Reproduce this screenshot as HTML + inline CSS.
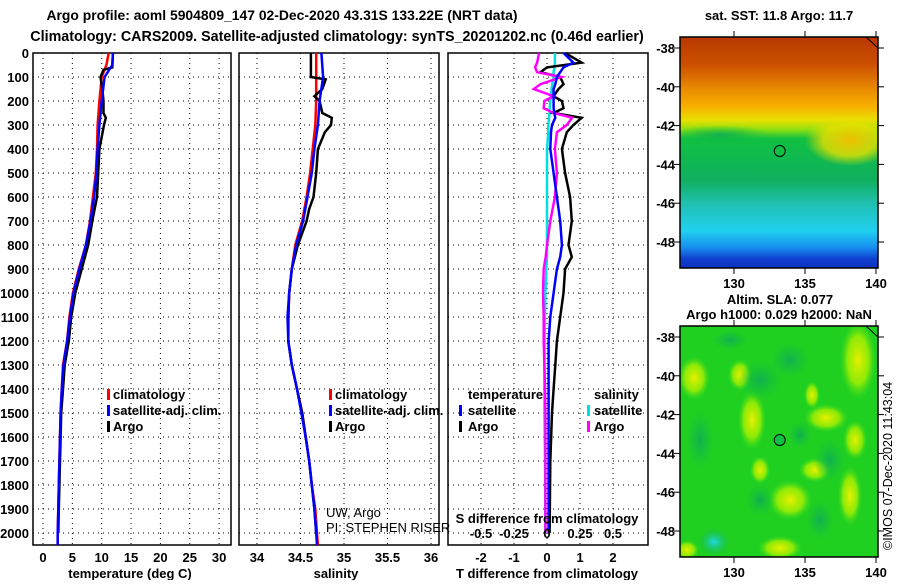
<!DOCTYPE html>
<html><head><meta charset="utf-8"><style>
body{margin:0;background:#fff}
svg text{font-family:"Liberation Sans",sans-serif;font-size:13px;fill:#000}
</style></head><body>
<svg id="c" width="900" height="580" xmlns="http://www.w3.org/2000/svg">
<text x="282" y="20" text-anchor="middle" style="font-size:13.9px;font-weight:bold">Argo profile: aoml 5904809_147 02-Dec-2020 43.31S 133.22E (NRT data)</text>
<text x="337" y="41" text-anchor="middle" style="font-size:14.3px;font-weight:bold">Climatology: CARS2009. Satellite-adjusted climatology: synTS_20201202.nc (0.46d earlier)</text>
<defs>
<linearGradient id="sst" x1="0" y1="0" x2="0" y2="1">
<stop offset="0" stop-color="#b83800"/><stop offset="0.12" stop-color="#cc5000"/><stop offset="0.22" stop-color="#e88800"/><stop offset="0.3" stop-color="#f8b000"/><stop offset="0.36" stop-color="#e8e000"/><stop offset="0.4" stop-color="#90e010"/><stop offset="0.44" stop-color="#10c040"/><stop offset="0.62" stop-color="#10b060"/><stop offset="0.72" stop-color="#20c0b0"/><stop offset="0.84" stop-color="#20d0f0"/><stop offset="0.91" stop-color="#1890f0"/><stop offset="0.96" stop-color="#1040d0"/><stop offset="1" stop-color="#1030c0"/>
</linearGradient>
<radialGradient id="yb"><stop offset="0" stop-color="#e8f000"/><stop offset="0.6" stop-color="#a8f000" stop-opacity="0.8"/><stop offset="1" stop-color="#40e020" stop-opacity="0"/></radialGradient>
<radialGradient id="db"><stop offset="0" stop-color="#10b050"/><stop offset="1" stop-color="#10c040" stop-opacity="0"/></radialGradient>
<radialGradient id="cb"><stop offset="0" stop-color="#20d8e8"/><stop offset="1" stop-color="#10b060" stop-opacity="0"/></radialGradient>
<radialGradient id="ob"><stop offset="0" stop-color="#f0c000"/><stop offset="0.6" stop-color="#e8e000" stop-opacity="0.8"/><stop offset="1" stop-color="#e8e000" stop-opacity="0"/></radialGradient>
</defs>
<g id="maps"></g>
<g id="plots"></g>
</svg>
<script>
// ---- data ----
const tDepth = [0,50,100,200,300,400,500,600,700,800,900,1000,1100,1200,1300,1400,1500,1600,1700,1800,1900,2000,2050];
const tClim  = [11.2,10.8,10.0,9.6,9.3,9.2,9.0,8.5,8.0,7.3,6.1,5.1,4.5,4.1,3.4,3.2,3.0,2.9,2.8,2.7,2.6,2.5,2.5];
const tSat   = [11.9,11.8,10.5,10.0,9.6,9.3,9.1,8.7,8.1,7.3,6.2,5.2,4.6,4.1,3.5,3.2,3.0,2.9,2.8,2.7,2.6,2.5,2.5];
const argoDepth = [0,60,70,100,150,200,250,270,300,350,400,500,600,700,800,900,1000,1100,1200,1300,1400,1500,1600,1700,1800,1900,2000];
const tArgo = [11.9,11.8,10.3,9.8,10.1,10.3,10.3,10.7,10.4,10.0,9.6,9.4,9.2,8.4,7.7,6.6,5.5,4.8,4.4,3.7,3.4,3.1,3.0,2.9,2.8,2.7,2.6];
const sDepth = [0,100,200,300,400,500,600,700,800,900,1000,1100,1200,1300,1400,1500,1600,1700,1800,1900,2000,2050];
const sClim  = [34.68,34.68,34.68,34.67,34.64,34.61,34.57,34.52,34.44,34.40,34.37,34.36,34.36,34.40,34.46,34.52,34.56,34.60,34.63,34.67,34.69,34.70];
const sSat   = [34.74,34.76,34.72,34.70,34.66,34.63,34.58,34.53,34.45,34.40,34.37,34.35,34.36,34.40,34.46,34.51,34.56,34.60,34.63,34.66,34.68,34.69];
const sArgoDepth = [0,100,110,150,180,200,250,270,300,330,400,500,600,650,700,800,900,1000,1100,1200,1300,1400,1500,1600,1700,1800,1900,2000];
const sArgo = [34.62,34.62,34.79,34.75,34.66,34.72,34.75,34.86,34.85,34.78,34.70,34.68,34.65,34.60,34.57,34.47,34.40,34.37,34.36,34.36,34.40,34.46,34.52,34.56,34.60,34.63,34.66,34.68];
const dDepth = [0,40,60,80,100,130,150,180,200,230,250,270,300,330,400,500,600,700,800,850,900,1000,1100,1200,1300,1400,1500,1700,2000];
const dTArgo = [0.55,1.05,0,-0.2,0.4,0.5,0.35,0.2,0.45,0.5,0.2,1.05,0.8,0.6,0.45,0.55,0.7,0.75,0.65,0.75,0.55,0.5,0.4,0.3,0.25,0.2,0.15,0.1,0.08];
const dTSat  = [0.5,0.8,0.5,0.4,0.3,0.25,0.2,0.2,0.2,0.2,0.22,0.25,0.15,0.12,0.1,0.2,0.3,0.4,0.45,0.4,0.3,0.2,0.1,0.05,0.05,0.05,0.05,0.05,0.05];
const dSArgo = [-0.06,-0.075,-0.09,-0.075,0.11,-0.05,-0.1,0.05,-0.02,-0.025,0.05,0.19,0.15,0.075,0.06,0.075,0.06,0.025,0,-0.01,-0.025,-0.03,-0.025,-0.025,-0.02,-0.015,-0.012,-0.012,-0.012];
const dSSat  = [0.06,0.06,0.055,0.05,0.05,0.04,0.035,0.03,0.025,0.02,0.02,0.015,0.01,0.01,0,0,0,0,0,0,-0.005,-0.012,-0.015,-0.018,-0.02,-0.02,-0.02,-0.015,-0.012];
const depthTicks = [0,100,200,300,400,500,600,700,800,900,1000,1100,1200,1300,1400,1500,1600,1700,1800,1900,2000];
const tTicks = [0,5,10,15,20,25,30];
const sTicks = [34,34.5,35,35.5,36];
const sTickLabels = ['34','34.5','35','35.5','36'];
const dTTicks = [-2,-1,0,1,2];
const dSTicks = [-0.5,-0.25,0,0.25,0.5];
const dSTickLabels = ['-0.5','-0.25','0','0.25','0.5'];
const latTicks = [-38,-40,-42,-44,-46,-48];
const lonTicks = [130,135,140];

// ---- axes ----
const top0=53, bot=545;
const yD = d => 53 + d*0.24;
const xT = v => 43 + v*5.87;
const xS = v => 257 + (v-34)*87;
const xDT = v => 547 + v*33;
const xDS = v => 547 + v*132;
const NS='http://www.w3.org/2000/svg';
const G=document.getElementById('plots');
function el(tag,attrs,parent,txt){const e=document.createElementNS(NS,tag);for(const k in attrs)e.setAttribute(k,attrs[k]);if(txt!==undefined)e.textContent=txt;(parent||G).appendChild(e);return e;}
function panel(x0,x1,name){
  const g=el('g',{});
  
  
  depthTicks.forEach(d=>{const l=el('line',{x1:x0,x2:x1,y1:yD(d),y2:yD(d),stroke:'#000','stroke-width':1,'stroke-dasharray':'1,4'},g);
    
    });
  const r=el('rect',{x:x0,y:top0,width:x1-x0,height:bot-top0,fill:'none',stroke:'#000','stroke-width':1.5},g);
  
  
  return g;
}
function vgrid(g,ticks,f){ticks.forEach(v=>{const l=el('line',{x1:f(v),x2:f(v),y1:top0,y2:bot,stroke:'#000','stroke-width':1,'stroke-dasharray':'1,4'},g);
  
  });}
function series(g,depths,vals,f,color,w,name){
  let d='';depths.forEach((dp,i)=>{d+=(i?'L':'M')+f(vals[i]).toFixed(1)+','+yD(dp).toFixed(1);});
  const p=el('path',{d:d,fill:'none',stroke:color,'stroke-width':w},g);
  
  
}
function label(g,x,y,t,name,anchor,size,weight){
  const e=el('text',{x:x,y:y,'text-anchor':anchor||'middle'},g,t);
  e.setAttribute('style','font-size:'+(size||13)+'px;font-weight:'+(weight||'bold'));
  
  
  return e;
}
function legendMark(g,x,y,color,name){
  const r=el('rect',{x:x,y:y-10,width:3,height:11,fill:color},g);
  
  
}
depthTicks.forEach(d=>label(G,29,yD(d)+5,String(d),'depth-tick-label','end'));

// panel 1
const p1=panel(33,231,'temperature-panel');
vgrid(p1,tTicks,xT);
series(p1,tDepth,tClim,xT,'#ff0000',2.5,'temperature-climatology-line');
series(p1,argoDepth,tArgo,xT,'#000000',2.5,'temperature-argo-line');
series(p1,tDepth,tSat,xT,'#0000ff',2.5,'temperature-satellite-line');
tTicks.forEach(v=>label(p1,xT(v),562,String(v),'temperature-tick-label'));
label(p1,130,578,'temperature (deg C)','temperature-axis-title');
legendMark(p1,107,399,'#ff0000','legend-mark-climatology');label(p1,113,399,'climatology','legend-climatology','start');
legendMark(p1,107,415,'#0000ff','legend-mark-satellite');label(p1,113,415,'satellite-adj. clim.','legend-satellite','start');
legendMark(p1,107,431,'#000000','legend-mark-argo');label(p1,113,431,'Argo','legend-argo','start');

// panel 2
const p2=panel(239,439,'salinity-panel');
vgrid(p2,sTicks,xS);
series(p2,sDepth,sClim,xS,'#ff0000',2.5,'salinity-climatology-line');
series(p2,sArgoDepth,sArgo,xS,'#000000',2.5,'salinity-argo-line');
series(p2,sDepth,sSat,xS,'#0000ff',2.5,'salinity-satellite-line');
sTicks.forEach((v,i)=>label(p2,xS(v),562,sTickLabels[i],'salinity-tick-label'));
label(p2,336,578,'salinity','salinity-axis-title');
legendMark(p2,329,399,'#ff0000','legend-mark-climatology');label(p2,335,399,'climatology','legend-climatology','start');
legendMark(p2,329,415,'#0000ff','legend-mark-satellite');label(p2,335,415,'satellite-adj. clim.','legend-satellite','start');
legendMark(p2,329,431,'#000000','legend-mark-argo');label(p2,335,431,'Argo','legend-argo','start');
label(p2,326,517,'UW, Argo','pi-institution','start',13,'normal');
label(p2,326,532,'PI: STEPHEN RISER','pi-name','start',13,'normal');

// panel 3
const p3=panel(448,648,'difference-panel');
vgrid(p3,dTTicks,xDT);
series(p3,dDepth,dSSat,xDS,'#00e0e0',2.5,'salinity-satellite-diff-line');
series(p3,dDepth,dTArgo,xDT,'#000000',2.5,'temperature-argo-diff-line');
series(p3,dDepth,dSArgo,xDS,'#ff00ff',2.5,'salinity-argo-diff-line');
series(p3,dDepth,dTSat,xDT,'#0000ff',2.5,'temperature-satellite-diff-line');
dTTicks.forEach(v=>label(p3,xDT(v),562,String(v),'t-diff-tick-label'));
label(p3,547,578,'T difference from climatology','t-diff-axis-title');
dSTicks.forEach((v,i)=>label(p3,xDS(v),538,dSTickLabels[i],'s-diff-tick-label'));
label(p3,547,523,'S difference from climatology','s-diff-axis-title');
label(p3,468,399,'temperature','legend-temperature-header','start');
legendMark(p3,459,415,'#0000ff','legend-mark-t-satellite');label(p3,468,415,'satellite','legend-t-satellite','start');
legendMark(p3,459,431,'#000000','legend-mark-t-argo');label(p3,468,431,'Argo','legend-t-argo','start');
label(p3,594,399,'salinity','legend-salinity-header','start');
legendMark(p3,587,415,'#00e0e0','legend-mark-s-satellite');label(p3,594,415,'satellite','legend-s-satellite','start');
legendMark(p3,587,431,'#ff00ff','legend-mark-s-argo');label(p3,594,431,'Argo','legend-s-argo','start');

// ---- maps ----
const M=document.getElementById('maps');
const lonX = v => 734 + (v-130)*14.2;
function map(y0,name,title1,title2,fillFn){
  const g=el('g',{},M);
  
  
  const latY = v => y0+11 + (-38 - v)*19.4;
  const cl=el('clipPath',{id:'clip'+y0},g);el('rect',{x:680,y:y0,width:198,height:231},cl);
  const inner=el('g',{'clip-path':'url(#clip'+y0+')'},g);
  fillFn(inner,latY);
  const c=el('circle',{cx:lonX(133.22),cy:latY(-43.31),r:5.5,fill:'#10c040',stroke:'#000','stroke-width':1},g);
  
  
  el('path',{d:`M866,${y0} L878,${y0+11}`,stroke:'#000','stroke-width':1,fill:'none'},g);
  const f=el('rect',{x:680,y:y0,width:198,height:231,fill:'none',stroke:'#000','stroke-width':1.5},g);
  
  
  latTicks.forEach(v=>{label(g,675,latY(v)+5,String(v),'latitude-tick-label','end');
    el('line',{x1:878,x2:884,y1:latY(v),y2:latY(v),stroke:'#000'},g);el('line',{x1:674,x2:680,y1:latY(v),y2:latY(v),stroke:'#000'},g);});
  lonTicks.forEach(v=>{label(g,lonX(v),y0+231+20,String(v),'longitude-tick-label');
    el('line',{x1:lonX(v),x2:lonX(v),y1:y0-6,y2:y0,stroke:'#000'},g);el('line',{x1:lonX(v),x2:lonX(v),y1:y0+231,y2:y0+237,stroke:'#000'},g);});
  if(title2){label(g,780,y0-22,title1,'map-title');label(g,779,y0-7,title2,'map-subtitle');}
  else label(g,779,y0-17,title1,'map-title');
}
map(37,'sst-map','sat. SST: 11.8 Argo: 11.7',null,(g)=>{
  const r=el('rect',{x:680,y:37,width:198,height:231,fill:'url(#sst)'},g);
  
  
  el('ellipse',{cx:850,cy:140,rx:45,ry:26,fill:'url(#ob)'},g);
  el('ellipse',{cx:720,cy:135,rx:50,ry:10,fill:'url(#db)'},g);
});
map(326,'sla-map','Altim. SLA: 0.077','Argo h1000: 0.029 h2000: NaN',(g)=>{
  const r=el('rect',{x:680,y:326,width:198,height:231,fill:'#20d020'},g);
  
  
  [[858,360,18,40],[694,378,16,22],[752,420,14,30],[826,418,22,14],[760,470,10,14],[790,500,22,20],[850,496,12,30],[780,548,22,12],[687,550,12,10],[815,470,16,12],[740,375,12,16],[812,395,8,14],[855,440,12,20]].forEach(b=>el('ellipse',{cx:b[0],cy:b[1],rx:b[2],ry:b[3],fill:'url(#yb)'},g));
  [[760,380,22,20],[830,460,16,22],[760,500,14,16],[820,520,14,20],[700,440,14,30],[790,360,20,18],[730,340,18,10],[800,435,12,14]].forEach(b=>el('ellipse',{cx:b[0],cy:b[1],rx:b[2],ry:b[3],fill:'url(#db)'},g));
  el('ellipse',{cx:714,cy:542,rx:16,ry:14,fill:'url(#cb)'},g);
});
const cr=el('text',{x:0,y:0,transform:'translate(892,550) rotate(-90)'});
cr.textContent='©IMOS 07-Dec-2020 11:43:04';
cr.setAttribute('style','font-size:12.5px;font-weight:normal');


</script>
</body></html>
